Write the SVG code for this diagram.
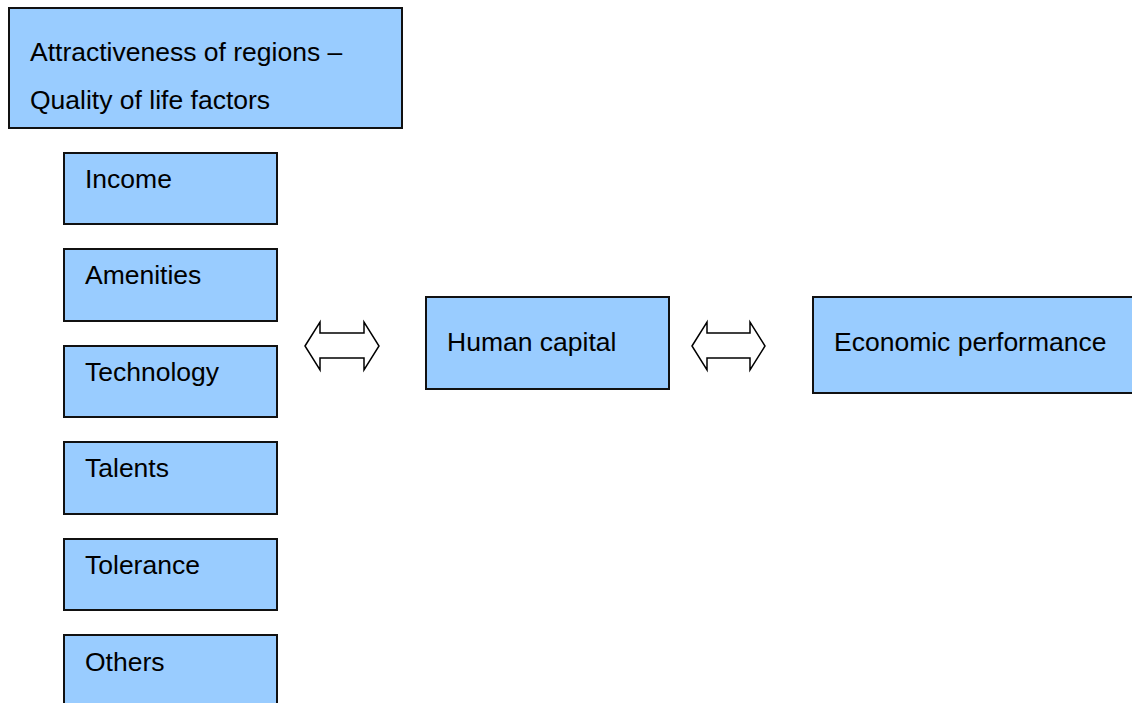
<svg xmlns="http://www.w3.org/2000/svg" width="1132" height="703" viewBox="0 0 1132 703">
<style>
.box{fill:#99ccff;stroke:#111;stroke-width:2}
.t{font-family:"Liberation Sans",Arial,sans-serif;font-size:26.5px;fill:#000}
.arr{fill:#fff;stroke:#000;stroke-width:1.5;stroke-linejoin:miter}
</style>
<rect width="1132" height="703" fill="#fff"/>
<g id="attractiveness">
<rect class="box" x="9" y="8" width="393" height="120"/>
<text class="t" x="30" y="60.5">Attractiveness of regions –</text>
<text class="t" x="30" y="108.5">Quality of life factors</text>
</g>
<g id="income"><rect class="box" x="64" y="153" width="213" height="71"/><text class="t" x="85" y="188">Income</text></g>
<g id="amenities"><rect class="box" x="64" y="249" width="213" height="72"/><text class="t" x="85" y="284">Amenities</text></g>
<g id="technology"><rect class="box" x="64" y="346" width="213" height="71"/><text class="t" x="85" y="381">Technology</text></g>
<g id="talents"><rect class="box" x="64" y="442" width="213" height="72"/><text class="t" x="85" y="477">Talents</text></g>
<g id="tolerance"><rect class="box" x="64" y="539" width="213" height="71"/><text class="t" x="85" y="573.5">Tolerance</text></g>
<g id="others"><rect class="box" x="64" y="635" width="213" height="90"/><text class="t" x="85" y="670.5">Others</text></g>
<g id="human-capital"><rect class="box" x="426" y="297" width="243" height="92"/><text class="t" x="447" y="350.5">Human capital</text></g>
<g id="economic-performance"><rect class="box" x="813" y="297" width="330" height="96"/><text class="t" x="834" y="350.5">Economic performance</text></g>
<g id="connectors">
<path class="arr" d="M305,346 L320,322 L320,333 L364,333 L364,322 L379,346 L364,370 L364,358 L320,358 L320,370 Z"/>
<path class="arr" d="M692,346 L707,322 L707,333 L750,333 L750,322 L765,346 L750,370 L750,358 L707,358 L707,370 Z"/>
</g>
</svg>
